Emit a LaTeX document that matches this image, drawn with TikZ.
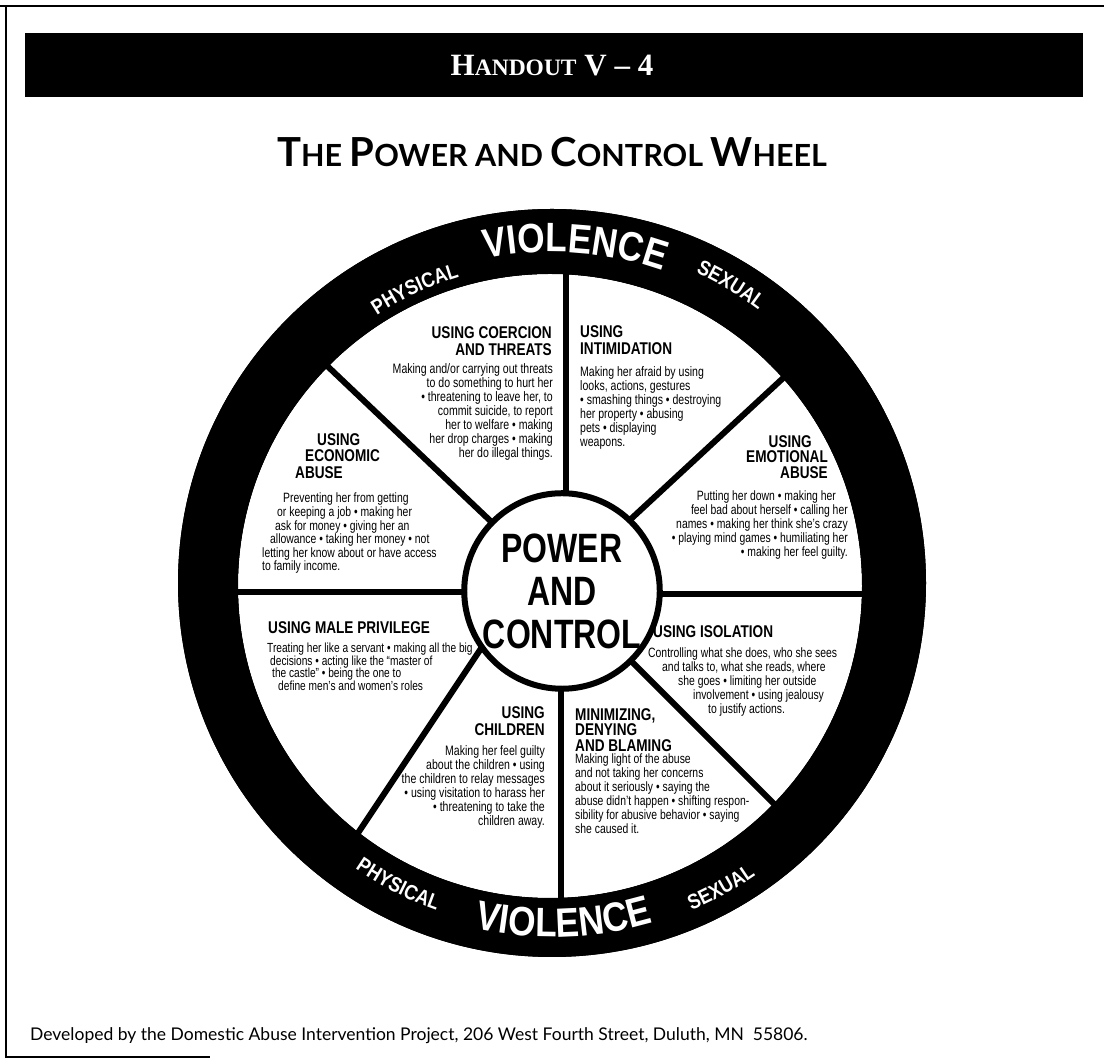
\documentclass[tikz,border=0pt]{standalone}
\usepackage{fontspec}
\newfontfamily\gillfont{Lato}
\newfontfamily\headfont[FakeStretch=0.8]{Liberation Sans}
\newfontfamily\wheelfont[FakeStretch=0.77]{Liberation Sans}
\newfontfamily\hubfont[FakeStretch=0.78]{Liberation Sans}
\newfontfamily\ringfont[FakeStretch=0.86]{Liberation Sans}
\newfontfamily\serifcaps{Liberation Serif}
\usetikzlibrary{decorations.text}

% formats for the words set along the rim
\newcommand\bigring{\color{white}\ringfont\bfseries\fontsize{41}{41}\selectfont}
\newcommand\smallring{\color{white}\ringfont\bfseries\fontsize{21}{21}\selectfont}
% big capital followed by small capitals
\newcommand\tcap[2]{{\fontsize{40}{40}\selectfont#1}{\fontsize{30.5}{30.5}\selectfont#2}}
\newcommand\hcap[2]{{\fontsize{31}{31}\selectfont#1}{\fontsize{23.5}{23.5}\selectfont#2}}

\tikzset{
  spoke/.style={line width=6pt},
  heading/.style={font=\headfont\bfseries\fontsize{17}{17}\selectfont, inner sep=0pt},
  blurb/.style={font=\wheelfont\fontsize{13.7}{14.1}\selectfont, inner sep=0pt},
  hub/.style={circle, draw, line width=6pt, fill=white, minimum size=174pt, inner sep=0pt,
    font=\hubfont\bfseries\fontsize{41}{43}\selectfont, align=center},
  ring label/.style 2 args={decorate,
    decoration={text along path, text align=center, text={|#1|#2}}},
}

\begin{document}
\begin{tikzpicture}[x=1pt, y=1pt]
  \useasboundingbox (0,0) rectangle (1104,1060);

  % page frame
  \draw[line width=2.5pt] (0,1054) -- (1104,1054);
  \draw[line width=2.5pt] (6,1054) -- (6,3) -- (210,3);

  % header bar and title
  \fill (25,963) rectangle (1083,1027);
  \node[text=white, font=\serifcaps\bfseries\fontsize{31}{31}\selectfont] (handout) at (552,994)
    {\hcap{H}{ANDOUT} V – 4};
  \node[font=\gillfont\bfseries\fontsize{30.5}{30.5}\selectfont] (title) at (552,908)
    {\tcap{T}{HE} \tcap{P}{OWER} AND \tcap{C}{ONTROL} \tcap{W}{HEEL}};

  % rim and white face
  \coordinate (rimc) at (552,477);
  \coordinate (facec) at (550,474);
  \coordinate (hubc) at (562,469);
  \fill (rimc) circle[radius=374];
  \fill[white] (facec) circle[radius=312];

  % spokes
  \coordinate (n-in) at (566,468);   \coordinate (n-out) at (566,790);
  \coordinate (ne-in) at (578,492);  \coordinate (ne-out) at (794,692);
  \coordinate (e-in) at (600,466);   \coordinate (e-out) at (890,466);
  \coordinate (se-in) at (580,450);  \coordinate (se-out) at (800,230);
  \coordinate (s-in) at (561,470);   \coordinate (s-out) at (561,125);
  \coordinate (sw-in) at (510,455);  \coordinate (sw-out) at (330,185);
  \coordinate (w-in) at (520,468);   \coordinate (w-out) at (220,468);
  \coordinate (nw-in) at (541,491);  \coordinate (nw-out) at (322,699);
  \foreach \s in {n,ne,e,se,s,sw,w,nw}
    \draw[spoke] (\s-in) -- (\s-out);

  % spoke ends tucked under the rim
  \fill[even odd rule] (rimc) circle[radius=374] (facec) circle[radius=312];

  \node[hub] (hub) at (hubc) {POWER\\AND\\CONTROL};

  % words on the rim
  \begin{scope}[shift={(rimc)}]
    \path[ring label={\smallring}{PHYSICAL}] (139:320) arc[start angle=139, end angle=91, radius=320];
    \path[ring label={\bigring}{VIOLENCE}] (116:331) arc[start angle=116, end angle=56, radius=331];
    \path[ring label={\smallring}{SEXUAL}] (81:342) arc[start angle=81, end angle=37, radius=342];
    \path[ring label={\smallring}{PHYSICAL}] (219:347) arc[start angle=219, end angle=267, radius=347];
    \path[ring label={\bigring}{VIOLENCE}] (242:354) arc[start angle=242, end angle=302, radius=354];
    \path[ring label={\smallring}{SEXUAL}] (277:356) arc[start angle=277, end angle=321, radius=356];
  \end{scope}

  % coercion and threats
  \node[heading, anchor=north east, align=right] (coerce) at (552,734)
    {USING COERCION\\AND THREATS};
  \node[blurb, anchor=north east, align=right] (coerce-txt) at (553,697)
    {Making and/or carrying out threats\\to do something to hurt her\\
     • threatening to leave her, to\\commit suicide, to report\\
     her to welfare • making\\her drop charges • making\\her do illegal things.};

  % intimidation
  \node[heading, anchor=north west, align=left] (intim) at (580,735)
    {USING\\INTIMIDATION};
  \node[blurb, anchor=north west, align=left] (intim-txt) at (580,694)
    {Making her afraid by using\\looks, actions, gestures\\
     • smashing things • destroying\\her property • abusing\\
     pets • displaying\\weapons.};

  % emotional abuse
  \node[heading, anchor=north east, align=right, font=\headfont\bfseries\fontsize{17}{15.5}\selectfont] (emo) at (828,625)
    {USING\hspace*{16pt}\\EMOTIONAL\hspace*{8pt}\\ABUSE};
  \node[blurb, anchor=north east, align=right, font=\wheelfont\fontsize{13.5}{14}\selectfont] (emo-txt) at (848,569)
    {Putting her down • making her\hspace*{12pt}\\feel bad about herself • calling her\hspace*{8pt}\\
     names • making her think she’s crazy\hspace*{3pt}\\• playing mind games • humiliating her\\
     • making her feel guilty.};

  % isolation
  \node[heading, anchor=north west, align=left] (isol) at (653,435)
    {USING ISOLATION};
  \node[blurb, anchor=north west, align=left, font=\wheelfont\fontsize{13.5}{14}\selectfont] (isol-txt) at (648,412)
    {Controlling what she does, who she sees\\
     \hspace*{14pt}and talks to, what she reads, where\\
     \hspace*{30pt}she goes • limiting her outside\\
     \hspace*{45pt}involvement • using jealousy\\
     \hspace*{60pt}to justify actions.};

  % minimizing, denying and blaming
  \node[heading, anchor=north west, align=left, font=\headfont\bfseries\fontsize{17}{15.5}\selectfont] (minim) at (575,352)
    {MINIMIZING,\\DENYING\\AND BLAMING};
  \node[blurb, anchor=north west, align=left, font=\wheelfont\fontsize{13.5}{14}\selectfont] (minim-txt) at (575,306)
    {Making light of the abuse\\and not taking her concerns\\
     about it seriously • saying the\\abuse didn’t happen • shifting respon-\\
     sibility for abusive behavior • saying\\she caused it.};

  % children
  \node[heading, anchor=north east, align=right] (kids) at (545,354)
    {USING\\CHILDREN};
  \node[blurb, anchor=north east, align=right] (kids-txt) at (545,315)
    {Making her feel guilty\\about the children • using\\
     the children to relay messages\\• using visitation to harass her\\
     • threatening to take the\\children away.};

  % male privilege
  \node[heading, anchor=north west, align=left] (male) at (268,439)
    {USING MALE PRIVILEGE};
  \node[blurb, anchor=north west, align=left, font=\wheelfont\fontsize{13.2}{12.5}\selectfont] (male-txt) at (267,417)
    {Treating her like a servant • making all the big\\
     \hspace*{3pt}decisions • acting like the “master of\\
     \hspace*{5pt}the castle” • being the one to\\
     \hspace*{11pt}define men’s and women’s roles};

  % economic abuse
  \node[heading, anchor=north west, align=left, font=\headfont\bfseries\fontsize{17}{16.5}\selectfont] (econ) at (295,627)
    {\hspace*{22pt}USING\\\hspace*{10pt}ECONOMIC\\ABUSE};
  \node[blurb, anchor=north west, align=left, font=\wheelfont\fontsize{13.5}{13.6}\selectfont] (econ-txt) at (262,567)
    {\hspace*{21pt}Preventing her from getting\\
     \hspace*{15pt}or keeping a job • making her\\
     \hspace*{13pt}ask for money • giving her an\\
     \hspace*{8pt}allowance • taking her money • not\\
     letting her know about or have access\\
     to family income.};

  % credit line
  \node[anchor=west, inner sep=0pt, font=\gillfont\fontsize{17.5}{17.5}\selectfont] (credit) at (30,24)
    {Developed by the Domestic Abuse Intervention Project, 206 West Fourth Street, Duluth, MN\ \ 55806.};
\end{tikzpicture}
\end{document}
